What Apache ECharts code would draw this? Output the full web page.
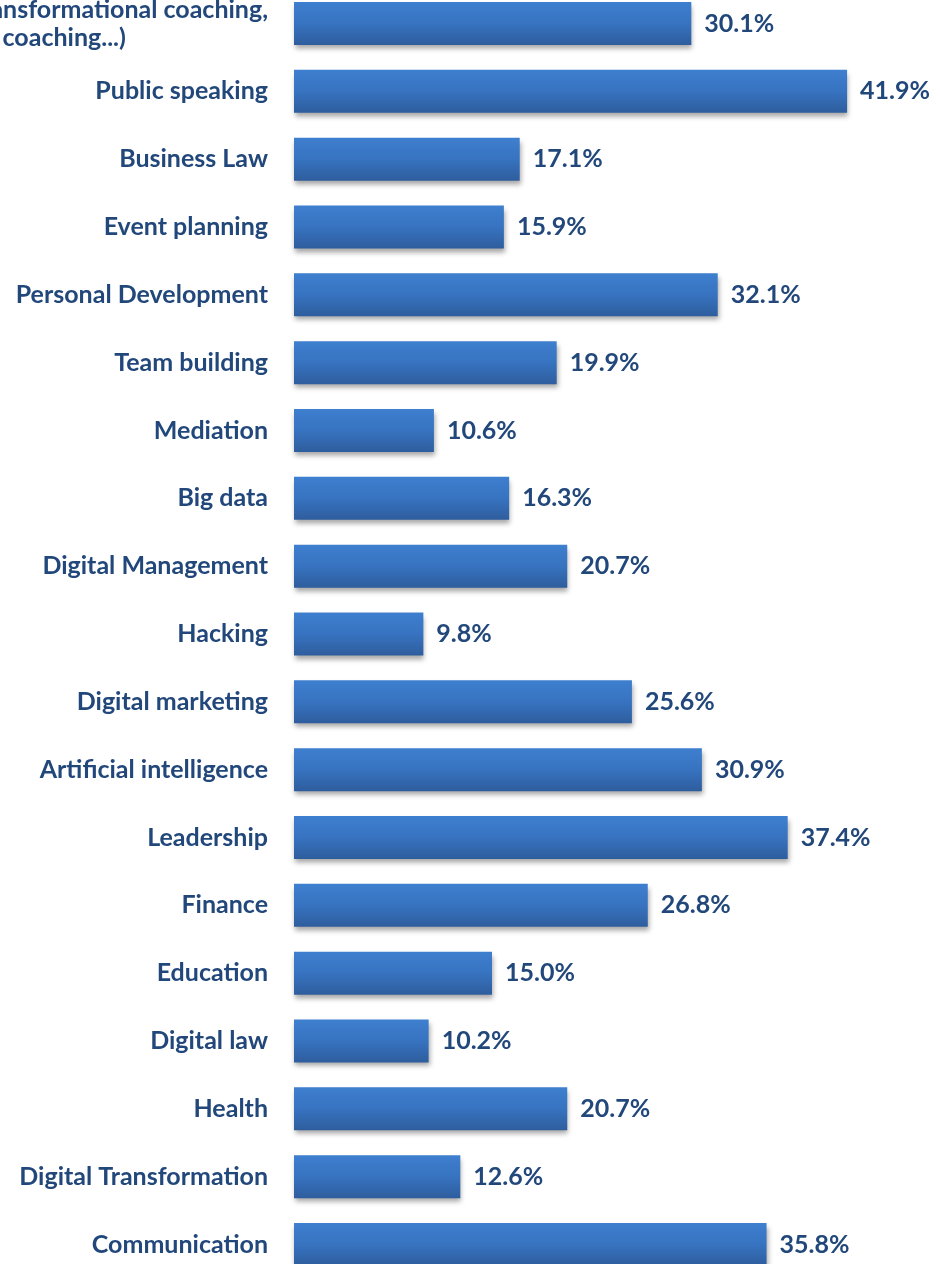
<!DOCTYPE html>
<html><head><meta charset="utf-8">
<script src="https://cdn.jsdelivr.net/npm/echarts@6/dist/echarts.min.js"></script>
<style>html,body{margin:0;padding:0;background:#fff}#c{width:940px;height:1264px}</style>
</head><body><div id="c"></div>
<script>
const categories = [
  "(Transformational coaching,\nlife coaching...)",
  "Public speaking", "Business Law", "Event planning", "Personal Development",
  "Team building", "Mediation", "Big data", "Digital Management", "Hacking",
  "Digital marketing", "Artificial intelligence", "Leadership", "Finance",
  "Education", "Digital law", "Health", "Digital Transformation", "Communication"
];
const values = [30.1, 41.9, 17.1, 15.9, 32.1, 19.9, 10.6, 16.3, 20.7, 9.8,
  25.6, 30.9, 37.4, 26.8, 15.0, 10.2, 20.7, 12.6, 35.8];

const TXT = '#22487b';
const FONT = 'Lato';
const FW = 'bold';
const FS = 25;
const chart = echarts.init(document.getElementById('c'), null, {renderer: 'canvas'});
chart.setOption({
  animation: false,
  grid: {left: 294, width: 660, top: -10.4, height: 1288.8, containLabel: false, outerBoundsMode: 'none'},
  xAxis: {type: 'value', min: 0, max: 50, show: false},
  yAxis: {
    type: 'category', data: categories, inverse: true,
    axisLine: {show: false}, axisTick: {show: false},
    axisLabel: {
      margin: 26, color: TXT, fontFamily: FONT, fontWeight: FW, fontSize: FS,
      formatter: function (v) {
        if (v.indexOf('\n') >= 0) {
          return v.split('\n').map(l => '{m|' + l + '}').join('\n');
        }
        return v;
      },
      rich: {m: {align: 'left', color: TXT, fontFamily: FONT, fontWeight: FW, fontSize: FS, lineHeight: 28}}
    }
  },
  series: [{
    type: 'bar', data: values, barWidth: 43,
    itemStyle: {
      color: new echarts.graphic.LinearGradient(0, 0, 0, 1, [
        {offset: 0, color: '#3e7fcf'}, {offset: 0.5, color: '#3773c0'}, {offset: 1, color: '#2e5d9d'}
      ]),
      shadowColor: 'rgba(0,0,0,0.35)', shadowBlur: 5, shadowOffsetY: 4, shadowOffsetX: 1
    },
    label: {
      show: true, position: 'right', distance: 13, color: TXT,
      fontFamily: FONT, fontWeight: FW, fontSize: FS,
      formatter: p => p.value.toFixed(1) + '%'
    }
  }]
});
</script></body></html>
